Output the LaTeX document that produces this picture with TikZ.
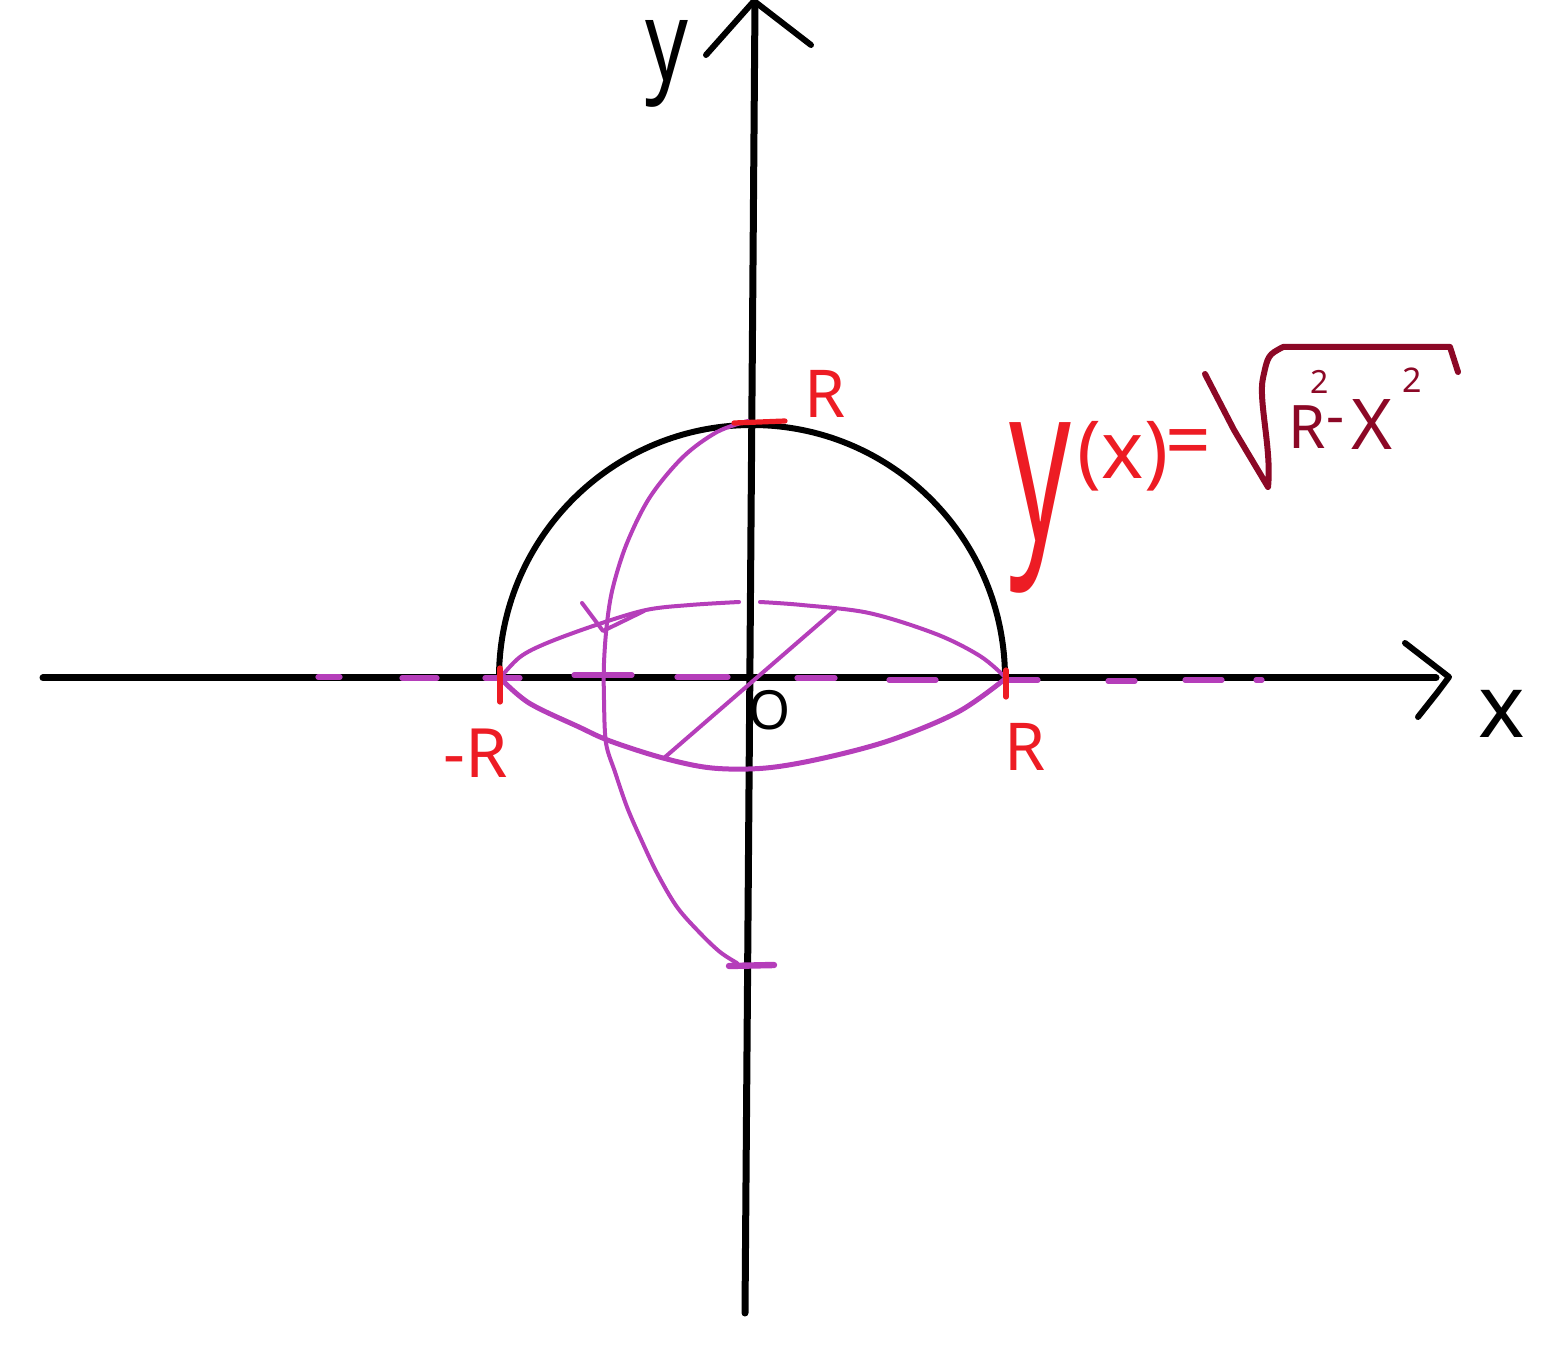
\documentclass[tikz,border=0pt]{standalone}
\usepackage{graphicx}
\usepackage{fontspec}
\setmainfont{Noto Sans}
\definecolor{penred}{RGB}{237,28,36}
\definecolor{pendark}{RGB}{140,8,38}
\definecolor{penpurple}{RGB}{181,62,186}
\begin{document}
\begin{tikzpicture}[x=0.5pt,y=-0.5pt, line cap=round, line join=round,
  axis/.style={line width=3.5pt, black},
  circ/.style={line width=3pt, black},
  pp/.style={line width=2pt, penpurple},
  ppthick/.style={line width=2.5pt, penpurple},
  dashseg/.style={line width=2.6pt, penpurple},
  redtick/.style={line width=2.6pt, penred},
  lbl/.style={inner sep=0pt, outer sep=0pt},
  fs/.style={font=\fontsize{#1}{#1}\selectfont}]
\useasboundingbox (0,0) rectangle (1549,1353);

% axes
\coordinate (xs) at (43,678);
\coordinate (xe) at (1436,678);
\coordinate (ys) at (745,1313);
\coordinate (ye) at (755,2);
\draw[axis] (xs) -- (xe);
\draw[axis] (ys) -- (ye);
\coordinate (xa1) at (1405,643);
\coordinate (xa2) at (1449,677);
\coordinate (xa3) at (1437,693);
\coordinate (xa4) at (1418,717);
\draw[line width=3pt] (xa1) -- (xa2) -- (xa3) -- (xa4);
\coordinate (ya1) at (706,55);
\coordinate (ya2) at (754,1);
\coordinate (ya3) at (811,45);
\draw[line width=3pt] (ya1) -- (ya2) -- (ya3);

\node[lbl, fs=56] (ylab) at (667,64) {\scalebox{0.75}[1]{y}};
\node[lbl, fs=44] (xlab) at (1502,714) {x};
\node[lbl, fs=27] (olab) at (770,710) {O};

% semicircle
\coordinate (mR) at (499,678);
\draw[circ] (mR) arc[start angle=180, end angle=360, radius=253];

% purple dashes on x axis
\foreach \a/\b/\y in {318/340/677, 402/437/678, 485/520/678, 574/632/675, 677/728/677,
  797/835/678, 889/936/680, 1008/1038/680, 1108/1135/681, 1185/1222/680, 1256/1262/680}
  \draw[dashseg] (\a,\y) -- (\b,\y);

% purple ellipse (equator)
\coordinate (eL) at (500,678);
\coordinate (eR) at (1005,678);
\draw[pp] plot[smooth, tension=0.55] coordinates {(500,678) (520,657) (547,643) (596,625) (646,610) (690,605) (739,602)};
\draw[pp] plot[smooth, tension=0.55] coordinates {(760,602) (802,605) (869,613) (936,634) (980,656) (1005,677)};
\draw[ppthick] plot[smooth, tension=0.55] coordinates {(500,678) (529,703) (579,727) (610,741) (663,758) (712,768) (766,768) (824,758) (891,740) (958,712) (1005,679)};

% small mark
\coordinate (m1) at (582,603);
\coordinate (m2) at (603,631);
\coordinate (m3) at (644,611);
\draw[pp] (m1) -- (m2) -- (m3);

% diameter through origin
\coordinate (d1) at (835,610);
\coordinate (d2) at (664,758);
\draw[pp] (d1) -- (d2);

% meridian
\draw[pp] plot[smooth, tension=0.55] coordinates {(748,421) (717,432) (683,457) (650,497) (627,543) (613,587) (607,623) (604,663) (604,700) (606,743) (615,772) (627,807) (640,837) (657,873) (677,907) (700,933) (720,952) (737,963)};
\coordinate (bt1) at (729,966);
\coordinate (bt2) at (774,965);
\draw[line width=3.2pt, penpurple] (bt1) -- (bt2);

% red ticks
\coordinate (t1) at (734,423);
\coordinate (t2) at (785,421);
\draw[redtick] (t1) -- (t2);
\coordinate (l1) at (500,668);
\coordinate (l2) at (500,702);
\draw[redtick] (l1) -- (l2);
\coordinate (r1) at (1006,670);
\coordinate (r2) at (1006,697);
\draw[redtick] (r1) -- (r2);

% red labels
\node[lbl, fs=33, text=penred] (rtop) at (825,394) {R};
\node[lbl, fs=34, text=penred] (rneg) at (476,753) {-R};
\node[lbl, fs=33, text=penred] (rright) at (1025,747) {R};

% formula
\node[lbl, fs=110, text=penred] (fy) at (1040,508) {\scalebox{0.55}[1]{y}};
\node[lbl, fs=40, text=penred] (fx) at (1123,456) {(x)};
\node[lbl, fs=40, text=penred] (feq) at (1188,449) {=};
\coordinate (s1) at (1205,374);
\coordinate (s2) at (1234,430);
\coordinate (s3) at (1268,487);
\coordinate (s4) at (1263,378);
\coordinate (s5) at (1283,347);
\coordinate (s6) at (1450,347);
\coordinate (s7) at (1458,372);
\draw[line width=3pt, pendark] (s1) -- (s2) -- (s3) .. controls (1272,450) and (1258,400) .. (s4) .. controls (1268,355) .. (s5) -- (s6) -- (s7);
\node[lbl, fs=30, text=pendark] (fR) at (1307,427) {R};
\node[lbl, fs=16, text=pendark] (f2a) at (1320,382) {2};
\node[lbl, fs=28, text=pendark] (fm) at (1336,427) {-};
\node[lbl, fs=35, text=pendark] (fX) at (1372,425) {X};
\node[lbl, fs=17, text=pendark] (f2b) at (1412,380) {2};
\end{tikzpicture}
\end{document}
